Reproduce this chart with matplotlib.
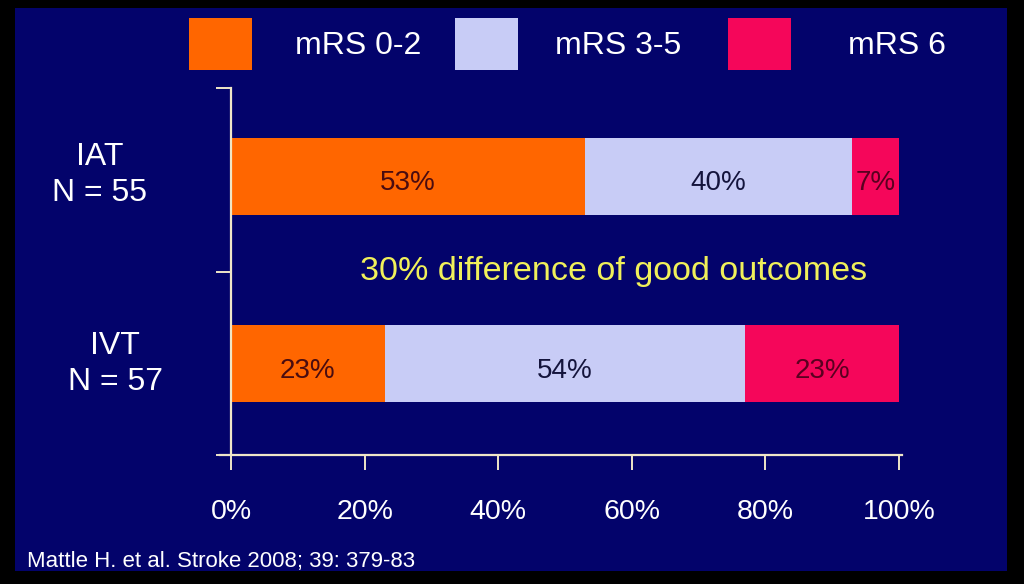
import matplotlib
matplotlib.use("Agg")
import matplotlib.pyplot as plt
from matplotlib.patches import Rectangle

plt.rcParams['font.family'] = ['Liberation Sans', 'DejaVu Sans']

# Data
groups = ["IAT\nN = 55", "IVT\nN = 57"]
series_names = ["mRS 0-2", "mRS 3-5", "mRS 6"]
mrs02 = [53, 23]
mrs35 = [40, 54]
mrs6 = [7, 23]
xticks = [0, 20, 40, 60, 80, 100]
xtick_labels = ["0%", "20%", "40%", "60%", "80%", "100%"]
annotation = "30% difference of good outcomes"
citation = "Mattle H. et al. Stroke 2008; 39: 379-83"

colors = ["#FF6600", "#C8CCF6", "#F5065A"]
label_colors = ["#4A0C10", "#14143C", "#5A0020"]
navy = "#03036B"
axis_col = "#EFE6C8"

W, H = 1024, 584
fig = plt.figure(figsize=(W/100, H/100), dpi=100)
fig.patch.set_facecolor("black")
# navy slide panel
fig.add_artist(Rectangle((15/W, 1-571/H), (1007-15)/W, (571-8)/H,
                         transform=fig.transFigure, facecolor=navy, edgecolor="none", zorder=0))

ax = fig.add_axes([231/W, 1-455/H, (899-231)/W, (455-88)/H])
ax.set_facecolor("none")

ypos = [1.52, 0.5]
h = 0.42
lefts = [0, 0]
for vals, c, lc in zip([mrs02, mrs35, mrs6], colors, label_colors):
    ax.barh(ypos, vals, left=lefts, height=h, color=c, edgecolor="none", zorder=2)
    for y, v, l in zip(ypos, vals, lefts):
        ax.text(l + v/2, y - 0.04, f"{v}%", ha="center", va="center",
                fontsize=20, color=lc, zorder=3)
    lefts = [a + b for a, b in zip(lefts, vals)]

ax.set_xlim(0, 100)
ax.set_ylim(0, 2)
ax.set_xticks(xticks)
ax.set_xticklabels(xtick_labels, fontsize=20.5, color="white")
ax.set_yticks([0, 1, 2])
ax.set_yticklabels([])
for s in ["top", "right"]:
    ax.spines[s].set_visible(False)
for s in ["left", "bottom"]:
    ax.spines[s].set_color(axis_col)
    ax.spines[s].set_linewidth(1.6)
ax.spines["bottom"].set_bounds(-1.6, 100.5)
ax.tick_params(axis="x", colors=axis_col, length=11, width=1.4, pad=21, labelcolor="white")
ax.tick_params(axis="y", colors=axis_col, length=11, width=1.4, direction="out")

label_px = [(100, 175), (115, 364)]
for (px, py), g in zip(label_px, groups):
    fig.text(px/W, 1-py/H, g, ha="center", va="center",
             fontsize=23, color="white", linespacing=1.22)

ax.text(57.2, 1.0, annotation, ha="center", va="center", fontsize=24.5, color="#F0F05A")

fig.text(27/W, 1-561/H, citation, ha="left", va="center", fontsize=16, color="white")

# legend
leg_items = [(189, 295), (455, 555), (728, 848)]
for (px, tx), c, name in zip(leg_items, colors, series_names):
    fig.add_artist(Rectangle((px/W, 1-70/H), 63/W, 52/H, transform=fig.transFigure,
                             facecolor=c, edgecolor="none"))
    fig.text(tx/W, 1-46/H, name, ha="left", va="center", fontsize=23, color="white")

fig.savefig("out.png", dpi=100, facecolor=fig.get_facecolor())
